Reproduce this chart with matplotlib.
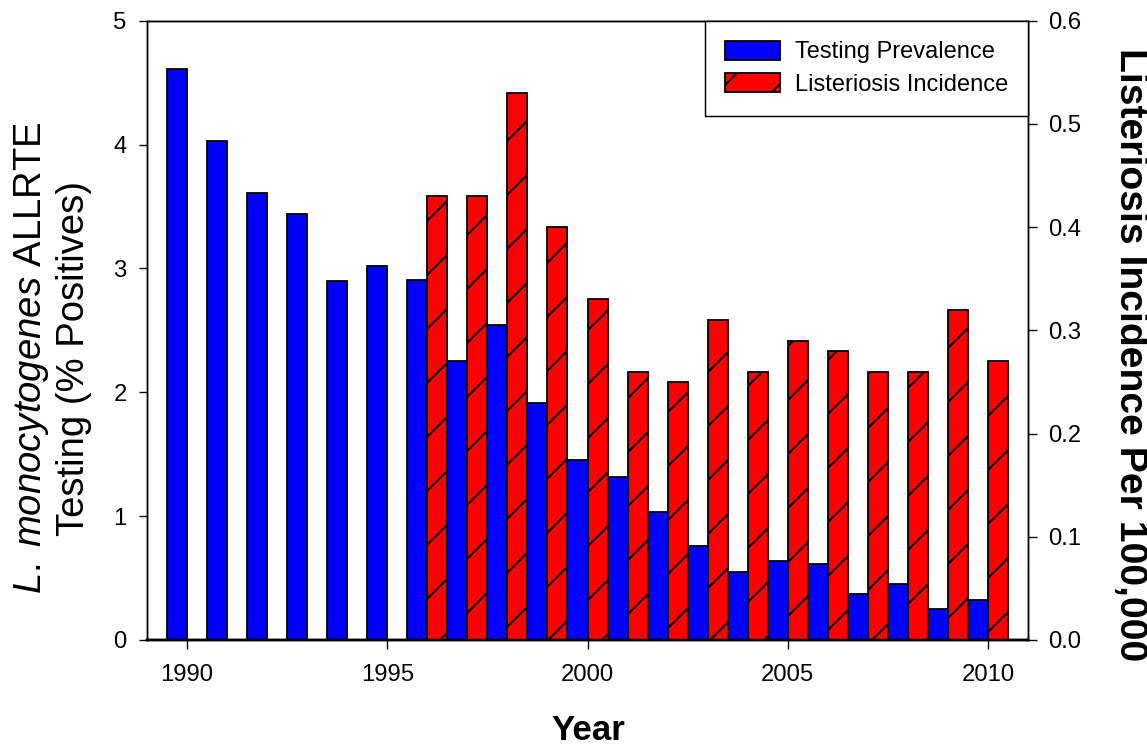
import matplotlib.pyplot as plt
from matplotlib.patches import Patch

plt.rcParams['font.family'] = ['Liberation Sans', 'DejaVu Sans']
plt.rcParams['mathtext.fontset'] = 'custom'
plt.rcParams['mathtext.rm'] = 'Liberation Sans'
plt.rcParams['mathtext.it'] = 'Liberation Sans:italic'
plt.rcParams['hatch.linewidth'] = 0.9

# données
years = [1990, 1991, 1992, 1993, 1994, 1995, 1996, 1997, 1998, 1999, 2000,
         2001, 2002, 2003, 2004, 2005, 2006, 2007, 2008, 2009, 2010]
prevalence = [4.61, 4.03, 3.61, 3.44, 2.90, 3.02, 2.91, 2.25, 2.54, 1.91, 1.45,
              1.32, 1.03, 0.76, 0.55, 0.64, 0.61, 0.37, 0.45, 0.25, 0.32]

years_inc = [1996, 1997, 1998, 1999, 2000, 2001, 2002, 2003, 2004, 2005,
             2006, 2007, 2008, 2009, 2010]
incidence = [0.43, 0.43, 0.53, 0.40, 0.33, 0.26, 0.25, 0.31, 0.26, 0.29,
             0.28, 0.26, 0.26, 0.32, 0.27]

xticks = [1990, 1995, 2000, 2005, 2010]
left_ticks = [0, 1, 2, 3, 4, 5]
right_ticks = [0.0, 0.1, 0.2, 0.3, 0.4, 0.5, 0.6]

# dpi 162 pour avoir des hachures espacées comme l'original
DPI = 162
fig = plt.figure(figsize=(1147 / DPI, 749 / DPI), dpi=DPI)
ax = fig.add_axes([147 / 1147, 1 - 640 / 749, (1028 - 147) / 1147, (640 - 20.7) / 749])
ax2 = ax.twinx()

ax.bar(years, prevalence, width=-0.5, align='edge', color='#0000ff',
       edgecolor='black', linewidth=0.8)
ax2.bar(years_inc, incidence, width=0.5, align='edge', color='#ff0000',
        edgecolor='black', linewidth=0.8, hatch='/')

ax.set_xlim(1989, 2011)
ax.set_ylim(0, 5)
ax2.set_ylim(0, 0.6)
ax.set_xticks(xticks)
ax.set_yticks(left_ticks)
ax2.set_yticks(right_ticks)
ax2.set_yticklabels(["%.1f" % t for t in right_ticks])

ax.tick_params(axis='x', direction='out', length=4, width=0.6, labelsize=10.6, pad=6.5)
ax.tick_params(axis='y', direction='out', length=3.5, width=0.6, labelsize=10.6, pad=5.5)
ax2.tick_params(axis='y', direction='out', length=4, width=0.6, labelsize=10.6, pad=5)

for a in (ax, ax2):
    for s in a.spines.values():
        s.set_linewidth(0.65)
    a.spines['bottom'].set_linewidth(1.1)

# titres des axes
fig.text(588 / 1147, 1 - 730 / 749, "Year", fontsize=15.5, fontweight='bold',
         ha='center', va='center')
fig.text(52 / 1147, 1 - 358 / 749,
         "$\\mathit{L.\\;monocytogenes}$ ALLRTE\nTesting (% Positives)",
         fontsize=17, rotation=90, ha='center', va='center',
         multialignment='center', linespacing=1.18)
fig.text(1130 / 1147, 1 - 355 / 749, "Listeriosis Incidence Per 100,000",
         fontsize=17.4, fontweight='bold', rotation=270, ha='center', va='center')

# légende
handles = [Patch(facecolor='#0000ff', edgecolor='black', linewidth=0.8),
           Patch(facecolor='#ff0000', edgecolor='black', linewidth=0.8, hatch='/')]
leg = ax2.legend(handles, ["Testing Prevalence", "Listeriosis Incidence"],
                 loc='upper right', borderaxespad=0, fontsize=10.5,
                 fancybox=False, framealpha=1, edgecolor='black',
                 handlelength=2.35, handleheight=0.85, handletextpad=0.6,
                 labelspacing=0.42, borderpad=0.85)
leg.get_frame().set_linewidth(0.65)

fig.savefig("out.png", dpi=DPI)
